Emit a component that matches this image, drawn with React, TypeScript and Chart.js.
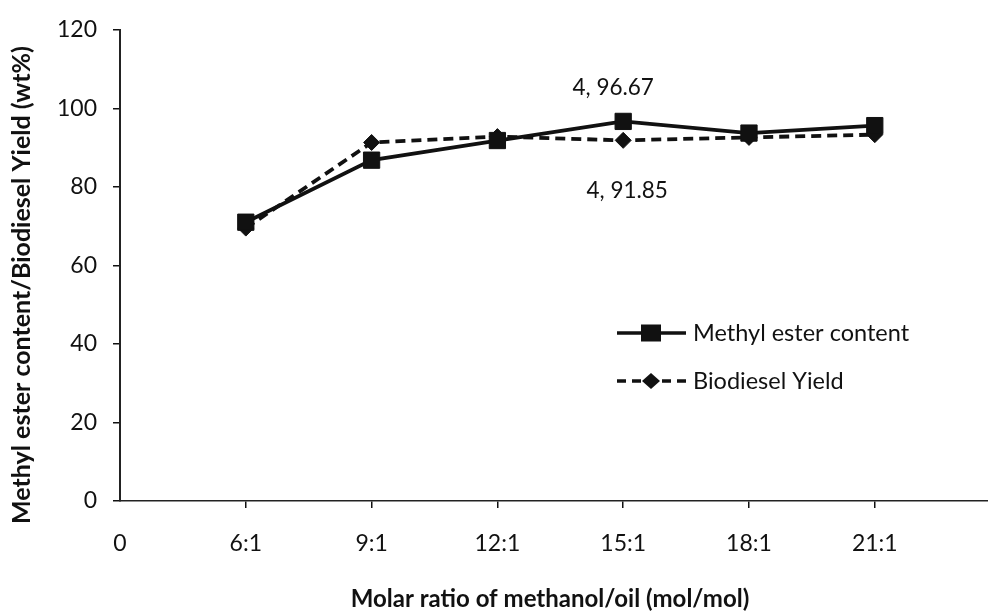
import React, { useEffect, useRef } from 'react';
import { Chart, registerables } from 'chart.js';

Chart.register(...registerables);

// ---- data ----
const categories = ['6:1', '9:1', '12:1', '15:1', '18:1', '21:1'];
const xTickLabels = ['0', ...categories];
const methylEster = [71, 86.8, 91.8, 96.67, 93.7, 95.6];
const biodieselYield = [69.5, 91.3, 92.8, 91.85, 92.6, 93.3];
const seriesNames = ['Methyl ester content', 'Biodiesel Yield'];
const yMin = 0;
const yMax = 120;
const yStep = 20;
const annotationLabels = ['4, 96.67', '4, 91.85'];
const annotationIndex = 3; // 15:1
const xTitle = 'Molar ratio of methanol/oil (mol/mol)';
const yTitle = 'Methyl ester content/Biodiesel Yield (wt%)';

const FONT = 'Lato, "Open Sans", sans-serif';
const INK = '#111';

const overlayPlugin = {
  id: 'overlay',
  afterDatasetsDraw(chart: any) {
    const ctx = chart.ctx as CanvasRenderingContext2D;
    const xs = chart.scales.x;
    const ys = chart.scales.y;
    ctx.save();
    ctx.fillStyle = INK;
    ctx.strokeStyle = INK;
    ctx.font = `22.5px ${FONT}`;
    ctx.textAlign = 'center';
    ctx.textBaseline = 'middle';
    const px = xs.getPixelForValue(annotationIndex + 1);
    const py1 = ys.getPixelForValue(methylEster[annotationIndex]);
    const py2 = ys.getPixelForValue(biodieselYield[annotationIndex]);
    ctx.fillText(annotationLabels[0], px - 10, py1 - 34);
    ctx.fillText(annotationLabels[1], px + 4, py2 + 50);

    // legend
    const lx0 = 617, lx1 = 686, mx = 651, tx = 693;
    const rows = [333, 381];
    ctx.lineWidth = 3.5;
    ctx.setLineDash([]);
    ctx.beginPath();
    ctx.moveTo(lx0, rows[0]);
    ctx.lineTo(lx1, rows[0]);
    ctx.stroke();
    ctx.fillRect(mx - 10, rows[0] - 8.5, 20, 17);
    ctx.setLineDash([9, 6]);
    ctx.beginPath();
    ctx.moveTo(lx0, rows[1]);
    ctx.lineTo(lx1, rows[1]);
    ctx.stroke();
    ctx.setLineDash([]);
    ctx.beginPath();
    ctx.moveTo(mx - 9, rows[1]);
    ctx.lineTo(mx, rows[1] - 8);
    ctx.lineTo(mx + 9, rows[1]);
    ctx.lineTo(mx, rows[1] + 8);
    ctx.closePath();
    ctx.fill();
    ctx.font = `23.5px ${FONT}`;
    ctx.textAlign = 'left';
    ctx.fillText(seriesNames[0], tx, rows[0]);
    ctx.fillText(seriesNames[1], tx, rows[1]);

    // axis titles
    ctx.textAlign = 'center';
    ctx.font = `bold 24px ${FONT}`;
    ctx.fillText(xTitle, 550, 599);
    ctx.save();
    ctx.translate(22, 285);
    ctx.rotate(-Math.PI / 2);
    ctx.font = `bold 25px ${FONT}`;
    ctx.fillText(yTitle, 0, 0);
    ctx.restore();
    ctx.restore();
  },
};

export default function App() {
  const ref = useRef<HTMLCanvasElement | null>(null);

  useEffect(() => {
    if (!ref.current) return;
    const chart = new Chart(ref.current, {
      type: 'line',
      data: {
        datasets: [
          {
            label: seriesNames[0],
            data: methylEster.map((v, i) => ({ x: i + 1, y: v })),
            borderColor: INK,
            backgroundColor: INK,
            borderWidth: 3.8,
            pointStyle: 'rect',
            pointRadius: 11.5,
            pointBorderWidth: 1,
            pointBackgroundColor: INK,
            pointBorderColor: INK,
            tension: 0,
          },
          {
            label: seriesNames[1],
            data: biodieselYield.map((v, i) => ({ x: i + 1, y: v })),
            borderColor: INK,
            backgroundColor: INK,
            borderWidth: 3.8,
            borderDash: [10, 6],
            pointStyle: 'rectRot',
            pointRadius: 8,
            pointBorderWidth: 1,
            pointBackgroundColor: INK,
            pointBorderColor: INK,
            tension: 0,
          },
        ],
      },
      options: {
        responsive: false,
        animation: false,
        devicePixelRatio: 1,
        layout: { autoPadding: false, padding: { top: 27, right: 0, bottom: 0, left: 0 } },
        plugins: {
          legend: { display: false },
          tooltip: { enabled: false },
        },
        scales: {
          x: {
            type: 'linear',
            min: 0,
            max: 6.9,
            afterFit: (s: any) => {
              s.height = 113;
              s.paddingRight = 0;
              s.paddingLeft = 0;
            },
            ticks: {
              stepSize: 1,
              includeBounds: false,
              autoSkip: false,
              maxRotation: 0,
              color: INK,
              font: { family: FONT, size: 23 },
              padding: 22,
              callback: (v: any) => xTickLabels[v] ?? '',
            },
            grid: {
              drawOnChartArea: false,
              drawTicks: true,
              tickLength: 7,
              lineWidth: 1.5,
              color: (c: any) => (c.tick && c.tick.value === 0 ? 'rgba(0,0,0,0)' : INK),
            },
            border: { display: true, color: '#222', width: 1.5 },
            title: { display: false },
          },
          y: {
            min: yMin,
            max: yMax,
            afterFit: (s: any) => { s.width = 120; },
            ticks: {
              stepSize: yStep,
              color: INK,
              font: { family: FONT, size: 23 },
              padding: 16,
            },
            grid: {
              drawOnChartArea: false,
              drawTicks: true,
              tickLength: 7,
              lineWidth: 1.5,
              color: INK,
            },
            border: { display: true, color: '#222', width: 2 },
            title: { display: false },
          },
        },
      },
      plugins: [overlayPlugin],
    } as any);
    return () => chart.destroy();
  }, []);

  return (
    <div style={{ position: 'fixed', left: 0, top: 0, width: 988, height: 614, background: '#fff' }}>
      <canvas ref={ref} width={988} height={614} style={{ width: 988, height: 614, display: 'block' }} />
    </div>
  );
}
